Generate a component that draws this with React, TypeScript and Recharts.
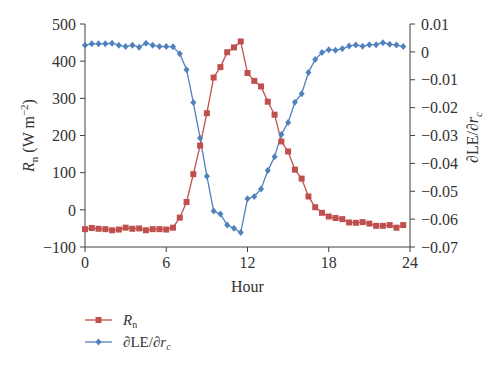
import React from "react";
import { ComposedChart, Line, XAxis, YAxis, Legend, Label } from "recharts";

// half-hourly values
const hours = [
  0, 0.5, 1, 1.5, 2, 2.5, 3, 3.5, 4, 4.5, 5, 5.5, 6, 6.5, 7, 7.5, 8, 8.5, 9, 9.5, 10, 10.5, 11, 11.5,
  12, 12.5, 13, 13.5, 14, 14.5, 15, 15.5, 16, 16.5, 17, 17.5, 18, 18.5, 19, 19.5, 20, 20.5, 21, 21.5,
  22, 22.5, 23, 23.5
];

// Rn (W m-2), left axis
const netRadiation = [
  -52, -49, -51, -52, -55, -53, -48, -51, -50, -55, -52, -52, -53, -48, -21, 21, 96, 173, 260, 356,
  384, 424, 437, 453, 368, 347, 332, 291, 256, 184, 157, 108, 84, 36, 7, -8, -18, -22, -25, -34, -35,
  -33, -37, -43, -43, -41, -48, -41
];

// dLE/drc, right axis
const sensitivity = [
  0.0024, 0.0029, 0.0029, 0.0029, 0.0031, 0.0024, 0.0019, 0.0024, 0.0017, 0.0031, 0.0024, 0.0019,
  0.0019, 0.0018, -0.0007, -0.0064, -0.0182, -0.0309, -0.0446, -0.0571, -0.0582, -0.0621, -0.0633,
  -0.0648, -0.0527, -0.0519, -0.0492, -0.0426, -0.0376, -0.0296, -0.0253, -0.0181, -0.015, -0.0074,
  -0.0027, -0.0002, 0.0008, 0.0006, 0.0011, 0.0021, 0.0025, 0.002, 0.0026, 0.0026, 0.0033, 0.0027,
  0.0025, 0.0019
];

const xTicks = [0, 6, 12, 18, 24];
const leftTicks = [-100, 0, 100, 200, 300, 400, 500];
const rightTicks = [-0.07, -0.06, -0.05, -0.04, -0.03, -0.02, -0.01, 0, 0.01];

const RED = "#C0504D";
const BLUE = "#4F81BD";
const AXIS = "#404040";
const TEXT = "#333";
const FONT = "'Liberation Serif', 'Times New Roman', serif";

const data = hours.map((h, i) => ({ hour: h, rn: netRadiation[i], dle: sensitivity[i] }));

const minus = (s: string) => s.replace("-", "\u2212");
const fmtLeft = (v: number) => minus(String(v));
const fmtRight = (v: number) => (Math.abs(v) < 1e-9 ? "0" : minus(v.toFixed(2)));

const SquareDot = (props: any) => {
  const { cx, cy, index } = props;
  if (cx == null || cy == null) return <g key={`sq-${index}`} />;
  return <rect key={`sq-${index}`} x={cx - 3} y={cy - 3} width={6} height={6} fill={RED} />;
};

const DiamondDot = (props: any) => {
  const { cx, cy, index } = props;
  if (cx == null || cy == null) return <g key={`dm-${index}`} />;
  return (
    <path
      key={`dm-${index}`}
      d={`M${cx},${cy - 3.5}L${cx + 3},${cy}L${cx},${cy + 3.5}L${cx - 3},${cy}Z`}
      fill={BLUE}
    />
  );
};

// axis titles with sub/superscripts
const LeftTitle = (props: any) => {
  const { viewBox } = props;
  const cy = viewBox.y + viewBox.height / 2;
  return (
    <text
      transform={`translate(20,${cy}) rotate(-90)`}
      textAnchor="middle"
      dy="0.35em"
      fill={TEXT}
      fontSize={16}
      fontFamily={FONT}
    >
      <tspan fontStyle="italic">R</tspan>
      <tspan fontSize={11} dy={4}>n</tspan>
      <tspan dy={-4}> (W m</tspan>
      <tspan fontSize={11} dy={-6}>{"\u22122"}</tspan>
      <tspan dy={6}>)</tspan>
    </text>
  );
};

const RightTitle = (props: any) => {
  const { viewBox } = props;
  const cy = viewBox.y + viewBox.height / 2 + 2;
  return (
    <text
      transform={`translate(464,${cy}) rotate(-90)`}
      textAnchor="middle"
      dy="0.35em"
      fill={TEXT}
      fontSize={16}
      fontFamily={FONT}
    >
      <tspan>{"\u2202LE/\u2202"}</tspan>
      <tspan fontStyle="italic">r</tspan>
      <tspan fontSize={11} dy={4} fontStyle="italic">c</tspan>
    </text>
  );
};

const HourTitle = (props: any) => {
  const { viewBox } = props;
  const cx = viewBox.x + viewBox.width / 2;
  return (
    <text x={cx} y={278} textAnchor="middle" dy="0.35em" fill={TEXT} fontSize={16} fontFamily={FONT}>
      Hour
    </text>
  );
};

const LegendBox = () => (
  <svg width={140} height={50} style={{ display: "block" }}>
    <line x1={7} x2={34} y1={12} y2={12} stroke={RED} strokeWidth={1.3} />
    <rect x={17.5} y={9} width={6} height={6} fill={RED} />
    <text x={45} y={17} fill={TEXT} fontSize={15} fontFamily={FONT}>
      <tspan fontStyle="italic">R</tspan>
      <tspan fontSize={10} dy={3}>n</tspan>
    </text>
    <line x1={7} x2={34} y1={34} y2={34} stroke={BLUE} strokeWidth={1.3} />
    <path d="M20.5,30.5L23.5,34L20.5,37.5L17.5,34Z" fill={BLUE} />
    <text x={45} y={39} fill={TEXT} fontSize={15} fontFamily={FONT}>
      <tspan>{"\u2202LE/\u2202"}</tspan>
      <tspan fontStyle="italic">r</tspan>
      <tspan fontSize={10} dy={3} fontStyle="italic">c</tspan>
    </text>
  </svg>
);

export default function App() {
  return (
    <ComposedChart
      width={484}
      height={352}
      data={data}
      margin={{ top: 16, right: 0, bottom: 73, left: 0 }}
      style={{ fontFamily: FONT }}
    >
      <XAxis
        dataKey="hour"
        type="number"
        domain={[0, 24]}
        ticks={xTicks}
        interval={0}
        height={40}
        stroke={AXIS}
        tickSize={5}
        tickMargin={5}
        tick={{ fill: TEXT, fontSize: 16, fontFamily: FONT }}
      >
        <Label content={<HourTitle />} />
      </XAxis>
      <YAxis
        yAxisId="left"
        domain={[-100, 500]}
        ticks={leftTicks}
        interval={0}
        width={77}
        stroke={AXIS}
        tickSize={5}
        tickMargin={4}
        tickFormatter={fmtLeft}
        tick={{ fill: TEXT, fontSize: 16, fontFamily: FONT }}
      >
        <Label content={<LeftTitle />} />
      </YAxis>
      <YAxis
        yAxisId="right"
        orientation="right"
        domain={[-0.07, 0.01]}
        ticks={rightTicks}
        interval={0}
        width={82}
        stroke={AXIS}
        tickSize={5}
        tickMargin={6}
        tickFormatter={fmtRight}
        tick={{ fill: TEXT, fontSize: 16, fontFamily: FONT }}
      >
        <Label content={<RightTitle />} />
      </YAxis>
      <Legend
        layout="horizontal"
        verticalAlign="middle"
        align="center"
        content={() => <LegendBox />}
        wrapperStyle={{ left: 70, top: 300, width: 140, height: 50 }}
      />
      <Line
        yAxisId="left"
        dataKey="rn"
        name="Rn"
        type="linear"
        stroke={RED}
        strokeWidth={1.3}
        dot={SquareDot}
        activeDot={false}
        isAnimationActive={false}
      />
      <Line
        yAxisId="right"
        dataKey="dle"
        name="dLE/drc"
        type="linear"
        stroke={BLUE}
        strokeWidth={1.3}
        dot={DiamondDot}
        activeDot={false}
        isAnimationActive={false}
      />
    </ComposedChart>
  );
}
